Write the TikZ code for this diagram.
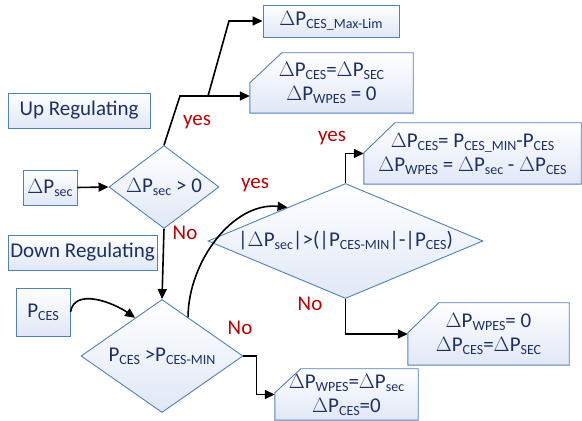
\documentclass[tikz,border=0pt]{standalone}
\usepackage{fontspec}
\setmainfont{Carlito}
\usepackage{tikz}
\usetikzlibrary{calc,arrows.meta,shapes.geometric,backgrounds}

\definecolor{bline}{RGB}{79,129,189}
\definecolor{bfill}{RGB}{224,231,246}
\definecolor{navy}{RGB}{28,48,102}
\definecolor{lblred}{RGB}{192,0,0}
\newcommand{\sbs}[1]{\raisebox{-0.3ex}{\fontsize{14}{14}\selectfont #1}}

\begin{document}
\begin{tikzpicture}[
  x=1pt,y=1pt,
  >=Triangle,
  shade/.style={draw=bline,line width=0.9pt,top color=white,bottom color=bfill},
  box/.style={rectangle,shade,text=navy,font=\fontsize{21}{24}\selectfont,inner sep=0pt,align=center},
  snip/.style={rectangle,text=navy,font=\fontsize{21}{24}\selectfont,inner sep=0pt,align=center},
  dia/.style={box,diamond},
  arr/.style={-{Triangle[length=10pt,width=9pt]},line width=1.6pt,black},
  lbl/.style={text=lblred,font=\fontsize{21}{24}\selectfont}
]

\useasboundingbox (0,0) rectangle (582,421);

% boxes
\node[box,minimum width=136,minimum height=32] (maxlim) at (331,400) {$\Delta$P\sbs{CES\_Max-Lim}};
\node[snip,minimum width=163,minimum height=60] (upcase) at (331.5,338)
  {$\Delta$P\sbs{CES}=$\Delta$P\sbs{SEC}\\$\Delta$P\sbs{WPES} = 0};
\node[box,minimum width=142,minimum height=35] (up) at (79,310.5) {Up Regulating};
\node[box,minimum width=54,minimum height=35] (dpsec) at (50,233.5) {$\Delta$P\sbs{sec}};
\node[dia,shape aspect=1.33,minimum width=110,minimum height=83] (dia1) at (164,234) {$\Delta$P\sbs{sec} > 0};
\node[box,minimum width=149,minimum height=35] (down) at (82.5,168.5) {Down Regulating};
\node[box,minimum width=54,minimum height=48] (pces) at (43,109) {P\sbs{CES}};
\node[dia,shape aspect=1.43,minimum width=162,minimum height=113] (dia2) at (162,65) {P\sbs{CES} >P\sbs{CES-MIN}};
\node[dia,shape aspect=2.39,minimum width=275,minimum height=115] (dia3) at (345.5,180)
  {|$\Delta$P\sbs{sec}|>(|P\sbs{CES-MIN}|-|P\sbs{CES})};
\node[snip,minimum width=217,minimum height=61] (minbox) at (472.5,267.5)
  {$\Delta$P\sbs{CES}= P\sbs{CES\_MIN}-P\sbs{CES}\\$\Delta$P\sbs{WPES} = $\Delta$P\sbs{sec} - $\Delta$P\sbs{CES}};
\node[snip,minimum width=161,minimum height=62] (secbox) at (488.5,87)
  {$\Delta$P\sbs{WPES}= 0\\$\Delta$P\sbs{CES}=$\Delta$P\sbs{SEC}};
\node[snip,minimum width=143,minimum height=51] (zerobox) at (346.5,26.5)
  {$\Delta$P\sbs{WPES}=$\Delta$P\sbs{sec}\\$\Delta$P\sbs{CES}=0};

% snipped corners
\begin{scope}[on background layer]
\foreach \b/\cx/\cy in {upcase/32/30,minbox/31/30,secbox/31/30,zerobox/26/24}
  \path[shade] ($(\b.north west)+(\cx,0)$) -- (\b.north east) -- (\b.south east)
    -- (\b.south west) -- ($(\b.north west)+(0,-\cy)$) -- cycle;
\end{scope}

% bends
\coordinate (j1) at (180,325);
\coordinate (j2) at (208,325);
\coordinate (k1) at (229,400);

% connectors
\draw[arr] (dpsec.east) -- (dia1.west);
\draw[arr] (dia1.north) -- (j1) -- (upcase.west |- j1);
\draw[arr] (j2) -- (k1) -- (maxlim.west |- k1);
\draw[arr] (dia1.south) -- (dia2.north);
\draw[arr] (pces.east) to[out=80,in=145] ($(dia2.north)!0.33!(dia2.west)$);
\draw[arr] ($(dia2.north)!0.32!(dia2.east)$) to[out=90,in=174,looseness=0.95] ($(dia3.west)!0.58!(dia3.north)$);
\draw[arr] (dia3.north) |- (minbox.west);
\draw[arr] (dia3.south) |- (secbox.west);
\draw[arr] (dia2.east) -- ++(13,0) |- (zerobox.west);

% labels
\node[lbl] (y1) at (197,299) {yes};
\node[lbl] (y2) at (255,236) {yes};
\node[lbl] (y3) at (332,283) {yes};
\node[lbl] (n1) at (185,188) {No};
\node[lbl] (n2) at (240,93) {No};
\node[lbl] (n3) at (310,117) {No};

\end{tikzpicture}
\end{document}
